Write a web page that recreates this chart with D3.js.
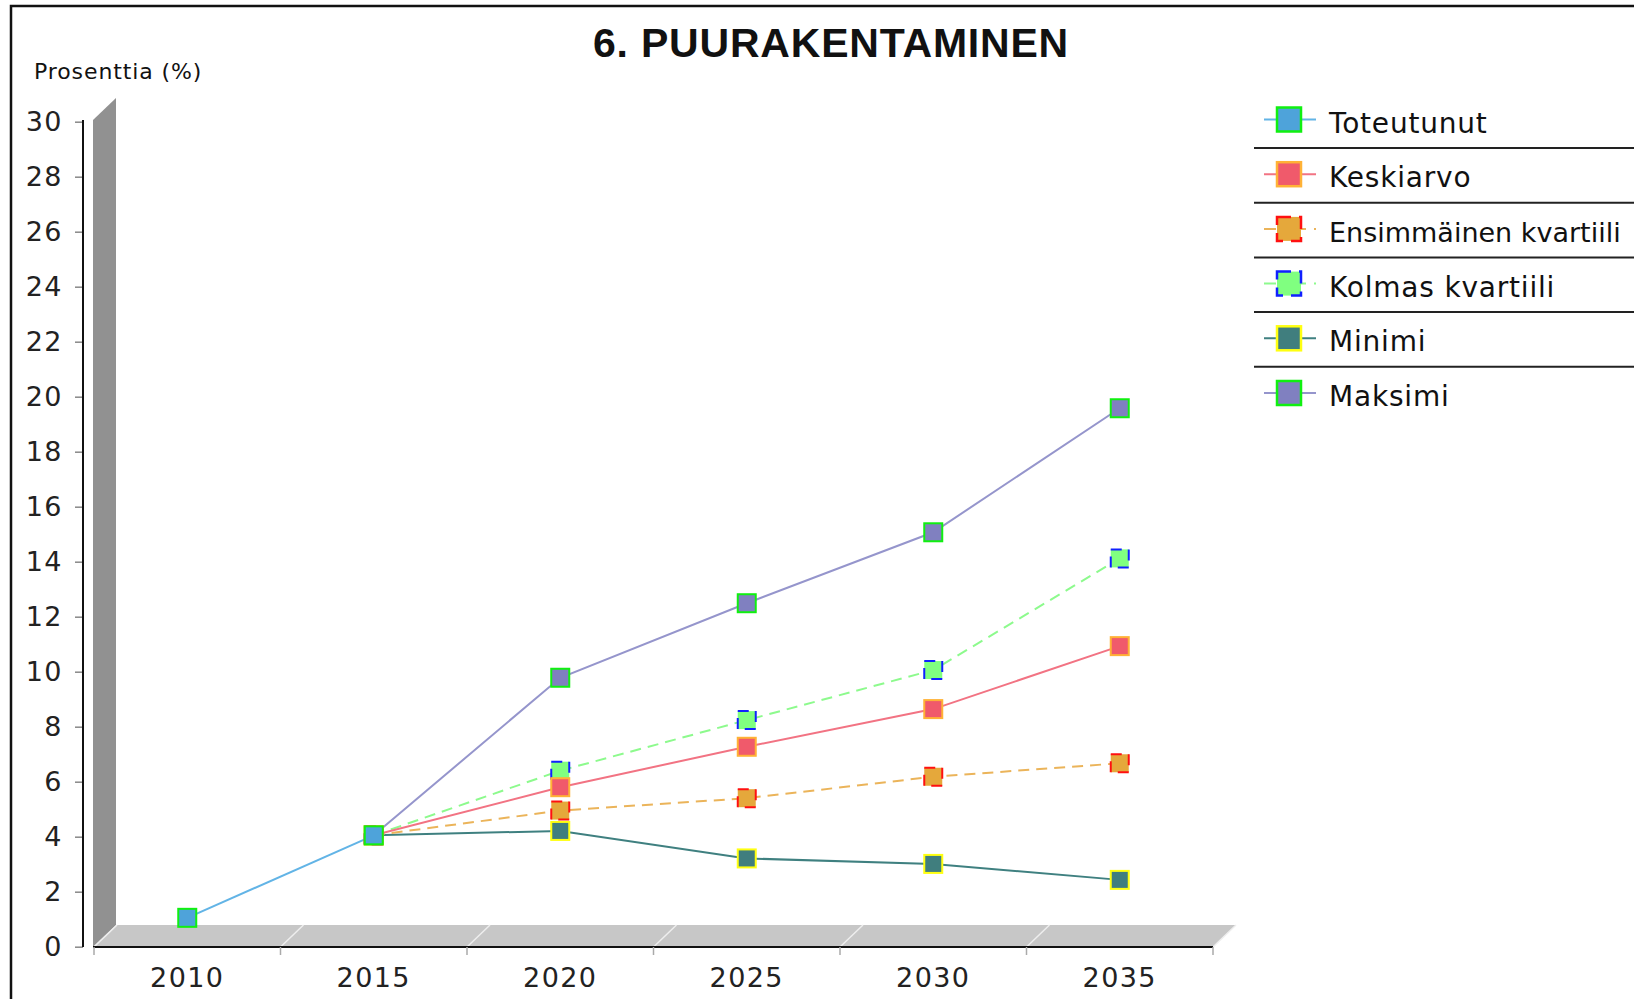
<!DOCTYPE html>
<html>
<head>
<meta charset="utf-8">
<script src="https://cdn.jsdelivr.net/npm/d3@7"></script>
<style>
  html, body { margin: 0; padding: 0; background: #fff; }
  svg { display: block; }
</style>
</head>
<body>
<svg id="chart" width="1634" height="999"></svg>
<script>
// ---- data ----
const categories = ["2010", "2015", "2020", "2025", "2030", "2035"];
const toteutunut = [1.05, 4.05, null, null, null, null];
const keskiarvo = [null, 4.05, 5.8, 7.27, 8.64, 10.93];
const ensimmainenKvartiili = [null, 4.05, 4.95, 5.4, 6.18, 6.67];
const kolmasKvartiili = [null, 4.05, 6.4, 8.24, 10.06, 14.12];
const minimi = [null, 4.05, 4.21, 3.21, 3.01, 2.43];
const maksimi = [null, 4.05, 9.78, 12.49, 15.07, 19.58];
const yTicks = [0, 2, 4, 6, 8, 10, 12, 14, 16, 18, 20, 22, 24, 26, 28, 30];
const seriesNames = ["Toteutunut", "Keskiarvo", "Ensimmäinen kvartiili", "Kolmas kvartiili", "Minimi", "Maksimi"];
const titleText = "6. PUURAKENTAMINEN";
const yLabelText = "Prosenttia (%)";

// ---- styles ----
const styles = [
  { line: "#62b4e6", fill: "#4ea3da", stroke: "#10f010", dash: null, mdash: null },
  { line: "#f27383", fill: "#f05a6b", stroke: "#ffb236", dash: null, mdash: null },
  { line: "#ebb45a", fill: "#e5a83b", stroke: "#ff1010", dash: "11,7", mdash: "11,7" },
  { line: "#8dfa8d", fill: "#80ff80", stroke: "#1020ff", dash: "11,7", mdash: "11,7" },
  { line: "#3f8080", fill: "#407e7e", stroke: "#ffff10", dash: null, mdash: null },
  { line: "#9595cc", fill: "#8080c0", stroke: "#10f010", dash: null, mdash: null }
];
const seriesData = [toteutunut, keskiarvo, ensimmainenKvartiili, kolmasKvartiili, minimi, maksimi];

const svg = d3.select("#chart");
const font = "'DejaVu Sans', Verdana, sans-serif";

// frame
svg.append("rect").attr("x", 11).attr("y", 6).attr("width", 1700).attr("height", 1100)
  .attr("fill", "#fff").attr("stroke", "#111").attr("stroke-width", 2.5);

// title
svg.append("text").attr("x", 831).attr("y", 57).attr("text-anchor", "middle")
  .attr("font-family", "'Liberation Sans', Arial, sans-serif").attr("font-weight", "bold")
  .attr("font-size", 41).attr("letter-spacing", 0.8).attr("fill", "#111").text(titleText);

// y label
svg.append("text").attr("x", 34).attr("y", 79)
  .attr("font-family", font).attr("font-size", 22).attr("letter-spacing", 0.9).attr("fill", "#111").text(yLabelText);

// scales
const plotLeft = 93, plotRight = 1213, plotBottom = 947, plotTop = 120;
const dx = 23, dy = 22;
const x = d3.scaleBand().domain(categories).range([plotLeft + 1, plotRight]);
const y = d3.scaleLinear().domain([0, 30]).range([946.7, 121.7]);

// 3D wall
svg.append("path")
  .attr("d", `M${plotLeft},${plotBottom} L${plotLeft},${plotTop} L${plotLeft + dx},${plotTop - dy} L${plotLeft + dx},${plotBottom - dy} Z`)
  .attr("fill", "#919191");
// 3D floor
svg.append("path")
  .attr("d", `M${plotLeft},${plotBottom} L${plotLeft + dx},${plotBottom - dy} L${plotRight + dx},${plotBottom - dy} L${plotRight},${plotBottom} Z`)
  .attr("fill", "#c7c7c7");
// floor grid at category edges
const edges = categories.map(c => x(c)).concat([x(categories[categories.length - 1]) + x.bandwidth()]);
svg.append("g").selectAll("line").data(edges).join("line")
  .attr("x1", d => d).attr("y1", plotBottom).attr("x2", d => d + dx).attr("y2", plotBottom - dy)
  .attr("stroke", "#eeeeee").attr("stroke-width", 1.5);

// y axis
const yAxis = d3.axisLeft(y).tickValues(yTicks).tickSize(8).tickPadding(12);
const gy = svg.append("g").attr("transform", "translate(83,0)").call(yAxis);
gy.select(".domain").remove();
gy.selectAll(".tick line").attr("stroke", "#888").attr("stroke-width", 1.5);
gy.selectAll(".tick text").attr("font-family", font).attr("font-size", 27).attr("letter-spacing", 1.5).attr("fill", "#222");
svg.append("line").attr("x1", 83).attr("x2", 83).attr("y1", plotTop).attr("y2", plotBottom)
  .attr("stroke", "#111").attr("stroke-width", 2);

// x axis
svg.append("line").attr("x1", plotLeft).attr("x2", plotRight).attr("y1", plotBottom).attr("y2", plotBottom)
  .attr("stroke", "#111").attr("stroke-width", 2);
svg.append("g").selectAll("line").data(edges).join("line")
  .attr("x1", d => d).attr("x2", d => d).attr("y1", plotBottom).attr("y2", plotBottom + 8)
  .attr("stroke", "#aaa").attr("stroke-width", 1.5);
const xAxis = d3.axisBottom(x).tickSize(0).tickPadding(0);
const gx = svg.append("g").attr("transform", `translate(0,${plotBottom})`).call(xAxis);
gx.select(".domain").remove();
gx.selectAll(".tick text").attr("font-family", font).attr("font-size", 27).attr("letter-spacing", 1.4).attr("fill", "#222")
  .attr("dy", null).attr("y", 40);

// lines
const order = [5, 4, 3, 2, 1, 0];
const lineGen = d3.line().defined(d => d.v != null).x(d => x(d.c) + x.bandwidth() / 2).y(d => y(d.v));
const lg = svg.append("g");
order.forEach(i => {
  const pts = categories.map((c, k) => ({ c, v: seriesData[i][k] }));
  lg.append("path").attr("d", lineGen(pts)).attr("fill", "none")
    .attr("stroke", styles[i].line).attr("stroke-width", 2)
    .attr("stroke-dasharray", styles[i].dash);
});
// markers
const mg = svg.append("g");
const ms = 18;
order.forEach(i => {
  const pts = categories.map((c, k) => ({ c, v: seriesData[i][k] })).filter(d => d.v != null);
  mg.append("g").selectAll("rect").data(pts).join("rect")
    .attr("x", d => x(d.c) + x.bandwidth() / 2 - ms / 2)
    .attr("y", d => y(d.v) - ms / 2)
    .attr("width", ms).attr("height", ms)
    .attr("fill", styles[i].fill).attr("stroke", styles[i].stroke).attr("stroke-width", 2)
    .attr("stroke-dasharray", styles[i].mdash);
});

// legend
const legX = 1264, legY0 = 119.5, legStep = 54.7, textX = 1329, maxRight = 1630;
const leg = svg.append("g");
seriesNames.forEach((name, i) => {
  const cy = legY0 + i * legStep;
  const g = leg.append("g");
  g.append("line").attr("x1", legX).attr("x2", legX + 52).attr("y1", cy).attr("y2", cy)
    .attr("stroke", styles[i].line).attr("stroke-width", 2)
    .attr("stroke-dasharray", styles[i].dash ? "12,8,4,6" : null);
  g.append("rect").attr("x", legX + 13).attr("y", cy - 12).attr("width", 24).attr("height", 24)
    .attr("fill", styles[i].fill).attr("stroke", styles[i].stroke).attr("stroke-width", 2.5)
    .attr("stroke-dasharray", styles[i].mdash ? "14,8" : null);
  const t = g.append("text").attr("x", textX).attr("y", cy + 13)
    .attr("font-family", font).attr("font-size", 28).attr("letter-spacing", 0.8).attr("fill", "#111").text(name);
  const w = t.node().getComputedTextLength();
  if (textX + w > maxRight) {
    t.attr("letter-spacing", 0).attr("font-size", 27);
    const w2 = t.node().getComputedTextLength();
    if (textX + w2 > maxRight) {
      t.attr("textLength", maxRight - textX).attr("lengthAdjust", "spacingAndGlyphs");
    }
  }
  if (i < seriesNames.length - 1) {
    leg.append("line").attr("x1", 1254).attr("x2", 1634).attr("y1", cy + 28.5).attr("y2", cy + 28.5)
      .attr("stroke", "#222").attr("stroke-width", 2);
  }
});
</script>
</body>
</html>
